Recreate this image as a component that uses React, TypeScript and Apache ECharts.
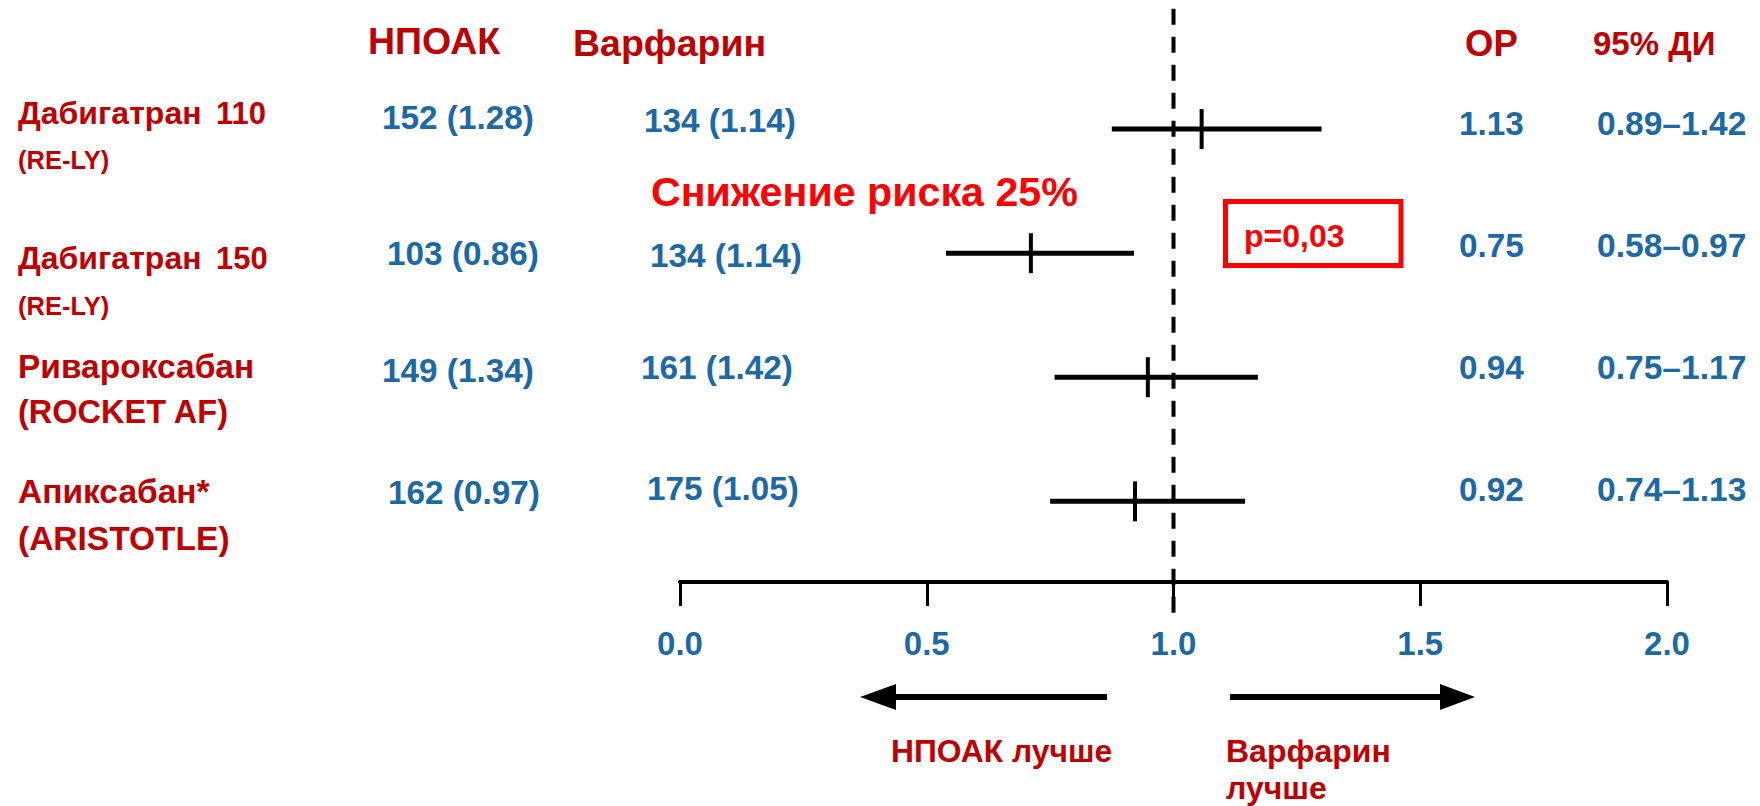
import React, { useEffect, useRef } from "react";
import * as echarts from "echarts";

// ---- data ----
const drugNames = ["Дабигатран", "Дабигатран", "Ривароксабан", "Апиксабан*"];
const doses = ["110", "150", "", ""];
const trials = ["(RE-LY)", "(RE-LY)", "(ROCKET AF)", "(ARISTOTLE)"];
const noacEvents = ["152 (1.28)", "103 (0.86)", "149 (1.34)", "162 (0.97)"];
const warfarinEvents = ["134 (1.14)", "134 (1.14)", "161 (1.42)", "175 (1.05)"];
const orLabels = ["1.13", "0.75", "0.94", "0.92"];
const ciLabels = ["0.89–1.42", "0.58–0.97", "0.75–1.17", "0.74–1.13"];
// plotted positions as drawn in the picture
const pointEst = [1.057, 0.711, 0.948, 0.922];
const ciLow = [0.875, 0.539, 0.759, 0.75];
const ciHigh = [1.3, 0.92, 1.171, 1.145];
const rowIndex = [4, 3, 2, 1];
const xTicks = [0, 0.5, 1.0, 1.5, 2.0];
const refValue = 1.0;

const FONT = "'Liberation Sans', Arial, sans-serif";
const DARKRED = "#c00000";
const RED = "#ff0000";
const BLUE = "#1c69a6";

export default function App() {
  const ref = useRef<HTMLDivElement>(null);
  useEffect(() => {
    if (!ref.current) return;
    const chart = echarts.init(ref.current, undefined, { renderer: "svg" });

    const txt = (text: string, x: number, y: number, size: number, color: string, align = "left") => ({
      type: "text",
      x,
      y,
      style: {
        text,
        fill: color,
        font: `bold ${size}px ${FONT}`,
        textAlign: align,
        textVerticalAlign: "middle",
      },
    });

    const rowLabelY = [113, 258, 366, 491];
    const trialY = [160, 306, 412, 538];
    const trialSize = [25.5, 25.5, 32.5, 33.5];
    const nameSize = [32, 32, 33.5, 33.5];
    const noacX = [382, 387, 382, 388];
    const noacY = [117, 253, 370, 492];
    const warfX = [644, 650, 641, 647];
    const warfY = [120, 255, 367, 488];
    const statY = [123, 245, 367, 489];

    const graphics: any[] = [
      txt("НПОАК", 368, 41, 37.5, DARKRED),
      txt("Варфарин", 573, 43, 37.5, DARKRED),
      txt("ОР", 1465, 43, 36.5, DARKRED),
      txt("95% ДИ", 1593, 43, 33, DARKRED),
      txt("Снижение риска 25%", 651, 192, 41.2, RED),
      txt("p=0,03", 1244, 236, 32, RED),
      {
        type: "rect",
        shape: { x: 1225.5, y: 201.5, width: 175.5, height: 64 },
        style: { fill: "none", stroke: RED, lineWidth: 5 },
      },
      // arrows
      { type: "line", shape: { x1: 1107, y1: 697, x2: 893, y2: 697 }, style: { stroke: "#000", lineWidth: 6 } },
      { type: "polygon", shape: { points: [[860, 697], [896, 684], [896, 710]] }, style: { fill: "#000" } },
      { type: "line", shape: { x1: 1230, y1: 697, x2: 1443, y2: 697 }, style: { stroke: "#000", lineWidth: 6 } },
      { type: "polygon", shape: { points: [[1475, 697], [1440, 684], [1440, 710]] }, style: { fill: "#000" } },
      txt("НПОАК лучше", 891, 751, 31.8, DARKRED),
      txt("Варфарин", 1226, 751, 32, DARKRED),
      txt("лучше", 1226, 788, 32, DARKRED),
    ];
    drugNames.forEach((n, i) => {
      graphics.push(txt(n, 18, rowLabelY[i], nameSize[i], DARKRED));
      if (doses[i]) graphics.push(txt(doses[i], 216, rowLabelY[i], 31, DARKRED));
      graphics.push(txt(trials[i], 18, trialY[i], trialSize[i], DARKRED));
      graphics.push(txt(noacEvents[i], noacX[i], noacY[i], 33.3, BLUE));
      graphics.push(txt(warfarinEvents[i], warfX[i], warfY[i], 33.3, BLUE));
      graphics.push(txt(orLabels[i], 1459, statY[i], 33.3, BLUE));
      graphics.push(txt(ciLabels[i], 1597, statY[i], 33.6, BLUE));
    });

    const ciData = rowIndex.map((r, i) => [ciLow[i], ciHigh[i], pointEst[i], r]);

    chart.setOption({
      animation: false,
      backgroundColor: "#fff",
      grid: { left: 680, right: 93, top: 5, bottom: 224 },
      xAxis: {
        type: "value",
        min: xTicks[0],
        max: xTicks[xTicks.length - 1],
        interval: 0.5,
        axisLine: { show: true, onZero: false, lineStyle: { color: "#000", width: 4 } },
        axisTick: { show: true, length: 24, lineStyle: { color: "#000", width: 3 } },
        axisLabel: {
          formatter: (v: number) => v.toFixed(1),
          color: BLUE,
          fontSize: 33,
          fontWeight: "bold",
          fontFamily: FONT,
          margin: 45,
        },
        splitLine: { show: false },
      },
      yAxis: {
        type: "value",
        min: 0.35,
        max: 5,
        show: false,
        splitLine: { show: false },
      },
      series: [
        {
          type: "line",
          data: [[refValue, 4.97], [refValue, 0.1]],
          clip: false,
          symbol: "none",
          lineStyle: { color: "#000", width: 4, type: [16, 12] },
          z: 1,
        },
        {
          type: "custom",
          data: ciData,
          encode: { x: [0, 1, 2], y: 3 },
          clip: false,
          z: 3,
          renderItem: (params: any, api: any) => {
            const row = api.value(3);
            const pLo = api.coord([api.value(0), row]);
            const pHi = api.coord([api.value(1), row]);
            const pPt = api.coord([api.value(2), row]);
            return {
              type: "group",
              children: [
                {
                  type: "line",
                  shape: { x1: pLo[0], y1: pLo[1], x2: pHi[0], y2: pHi[1] },
                  style: { stroke: "#000", lineWidth: 5 },
                },
                {
                  type: "line",
                  shape: { x1: pPt[0], y1: pPt[1] - 20, x2: pPt[0], y2: pPt[1] + 20 },
                  style: { stroke: "#000", lineWidth: 4 },
                },
              ],
            };
          },
        },
      ],
      graphic: graphics,
    });
    return () => chart.dispose();
  }, []);
  return (
    <div
      ref={ref}
      style={{ position: "fixed", left: 0, top: 0, width: 1760, height: 806, background: "#fff" }}
    />
  );
}
